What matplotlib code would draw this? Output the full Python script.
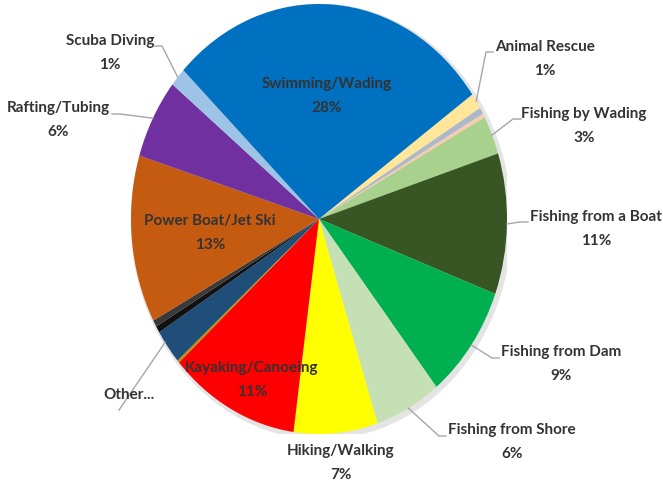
import matplotlib.pyplot as plt
from matplotlib.patches import Ellipse
import numpy as np

plt.rcParams['font.family'] = ['Lato', 'DejaVu Sans']

# slices clockwise, starting at Animal Rescue
names = ["Animal Rescue", "", "", "Fishing by Wading", "Fishing from a Boat",
         "Fishing from Dam", "Fishing from Shore", "Hiking/Walking",
         "Kayaking/Canoeing", "", "", "", "", "Power Boat/Jet Ski",
         "Rafting/Tubing", "Scuba Diving", "Swimming/Wading"]
shares = [1.2, 0.5, 0.3, 2.9, 10.6, 8.6, 5.7, 7.2, 11.2,
          0.2, 2.6, 0.5, 0.5, 12.6, 6.0, 1.4, 28.0]
colors = ["#FFE699", "#ADB9CA", "#F8CBAD", "#A9D18E", "#375623",
          "#00B050", "#C5E0B4", "#FFFF00", "#FF0000",
          "#BF8F00", "#1F4E79", "#111111", "#3A3A3A", "#C55A11",
          "#7030A0", "#9DC3E6", "#0070C0"]
other_idx = [9, 10, 11, 12]

# pie placement in pixels (elliptical in the original)
W, H = 663, 485
cx, cy, rx, ry = 319, 220, 188, 215


def px(x, y):
    return (x - cx) / rx, (cy - y) / ry


fig = plt.figure(figsize=(W / 100, H / 100), dpi=100)
ax = fig.add_axes([(cx - rx) / W, (H - cy - ry) / H, 2 * rx / W, 2 * ry / H])
# faint shadow under the pie
ax.add_patch(Ellipse((0.012, -0.012), 2.02, 2.02, color='#E4E4E4', zorder=0))
wedges, _ = ax.pie(shares, colors=colors, startangle=35.4, counterclock=False,
                   wedgeprops=dict(linewidth=0))
ax.set_aspect('auto')
ax.set_xlim(-1, 1)
ax.set_ylim(-1, 1)
ax.axis('off')

# label layout: text centre (px), leader anchor + elbow (px) or None
layout = {
    "Swimming/Wading": ((327, 96), None),
    "Power Boat/Jet Ski": ((210, 233), None),
    "Kayaking/Canoeing": ((252, 380), None),
    "Scuba Diving": ((110, 53), [(155, 47), (162, 47)]),
    "Rafting/Tubing": ((58, 120), [(112, 115), (120, 115)]),
    "Animal Rescue": ((545, 59), [(493, 53), (486, 53)]),
    "Fishing by Wading": ((584, 126), [(521, 120), (513, 120)]),
    "Fishing from a Boat": ((596, 229), [(528, 223), (520, 223)]),
    "Fishing from Dam": ((561, 364), [(499, 359), (492, 359)]),
    "Fishing from Shore": ((512, 442), [(446, 437), (439, 437)]),
    "Hiking/Walking": ((341, 463), None),
}

txt = dict(ha='center', va='center', fontsize=11, fontweight='bold',
           color='#333333', linespacing=1.85)
line = dict(color='#A6A6A6', lw=1, clip_on=False)

for i, name in enumerate(names):
    if name == "":
        continue
    (tx, ty), lead = layout[name]
    ax.text(*px(tx, ty), f"{name}\n{round(shares[i]):.0f}%", **txt)
    if lead:
        w = wedges[i]
        mid = np.deg2rad((w.theta1 + w.theta2) / 2)
        pts = [px(*p) for p in lead] + [(np.cos(mid), np.sin(mid))]
        ax.plot([p[0] for p in pts], [p[1] for p in pts], **line)

# grouped tiny slices
t1 = wedges[other_idx[0]].theta2
t2 = wedges[other_idx[-1]].theta1
mid = np.deg2rad((t1 + t2) / 2)
ax.text(*px(129, 395), "Other...", **txt)
a = px(119, 411)
ax.plot([a[0], np.cos(mid)], [a[1], np.sin(mid)], **line)

fig.savefig("out.png", dpi=100)
